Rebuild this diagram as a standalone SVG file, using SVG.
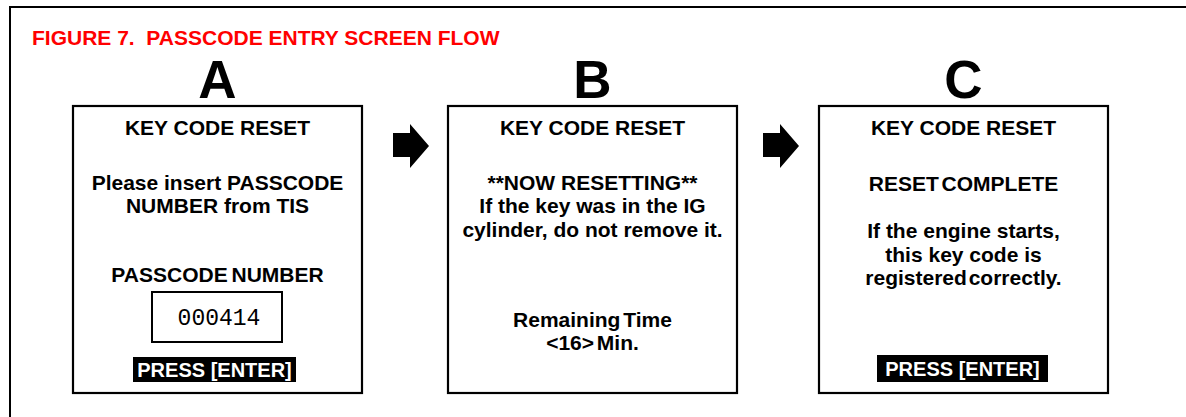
<svg xmlns="http://www.w3.org/2000/svg" width="1186" height="417" viewBox="0 0 1186 417">
  <style>
    .t { font-family: "Liberation Sans", Arial, sans-serif; font-weight: bold; font-size: 21px; fill: #000; text-anchor: middle; }
    .title { font-family: "Liberation Sans", Arial, sans-serif; font-weight: bold; font-size: 21px; fill: #ff0000; }
    .big { font-family: "Liberation Sans", Arial, sans-serif; font-weight: bold; font-size: 53px; fill: #000; text-anchor: middle; }
    .btn { font-family: "Liberation Sans", Arial, sans-serif; font-weight: bold; font-size: 20px; fill: #fff; text-anchor: middle; }
    .mono { font-family: "Liberation Mono", "Courier New", monospace; font-size: 23px; fill: #000; text-anchor: middle; }
    .screen { fill: #fff; stroke: #000; stroke-width: 2.2; }
  </style>
  <rect x="0" y="0" width="1186" height="417" fill="#fff"/>
  <rect id="frame" x="10" y="7" width="1190" height="420" fill="none" stroke="#000" stroke-width="2"/>
  <text class="title" x="32" y="45" xml:space="preserve">FIGURE 7.  PASSCODE ENTRY SCREEN FLOW</text>

  <g id="screenA">
    <text class="big" x="217.5" y="98">A</text>
    <rect class="screen" x="73" y="106" width="289" height="287"/>
    <text class="t" x="217.5" y="135">KEY CODE RESET</text>
    <text class="t" x="217.5" y="190">Please insert PASSCODE</text>
    <text class="t" x="217.5" y="213">NUMBER from TIS</text>
    <text class="t" x="217.5" y="282" word-spacing="-2">PASSCODE NUMBER</text>
    <rect x="152" y="292" width="130" height="50" fill="#fff" stroke="#000" stroke-width="2"/>
    <text class="mono" x="219" y="325">000414</text>
    <rect x="133" y="357" width="163" height="25" fill="#000"/>
    <text class="btn" x="214.5" y="377">PRESS [ENTER]</text>
  </g>

  <g id="screenB">
    <text class="big" x="592.5" y="98">B</text>
    <rect class="screen" x="448" y="106" width="289" height="287"/>
    <text class="t" x="592.5" y="135">KEY CODE RESET</text>
    <text class="t" x="592.5" y="190">**NOW RESETTING**</text>
    <text class="t" x="592.5" y="213">If the key was in the IG</text>
    <text class="t" x="592.5" y="237">cylinder, do not remove it.</text>
    <text class="t" x="592.5" y="327" word-spacing="-3">Remaining Time</text>
    <text class="t" x="592.5" y="350" word-spacing="-3">&lt;16&gt; Min.</text>
  </g>

  <g id="screenC">
    <text class="big" x="963.5" y="98">C</text>
    <rect class="screen" x="819" y="106" width="289" height="287"/>
    <text class="t" x="963.5" y="135">KEY CODE RESET</text>
    <text class="t" x="963.5" y="191" word-spacing="-3">RESET COMPLETE</text>
    <text class="t" x="963.5" y="238">If the engine starts,</text>
    <text class="t" x="963.5" y="262">this key code is</text>
    <text class="t" x="963.5" y="285" word-spacing="-4">registered correctly.</text>
    <rect x="877" y="355" width="171" height="27" fill="#000"/>
    <text class="btn" x="962.5" y="376">PRESS [ENTER]</text>
  </g>

  <g id="connectors" fill="#000">
    <path d="M393,133 H410 V124 L429,146 L410,168 V157 H393 Z"/>
    <path d="M763,133 H780 V124 L799,146 L780,168 V157 H763 Z"/>
  </g>
</svg>
